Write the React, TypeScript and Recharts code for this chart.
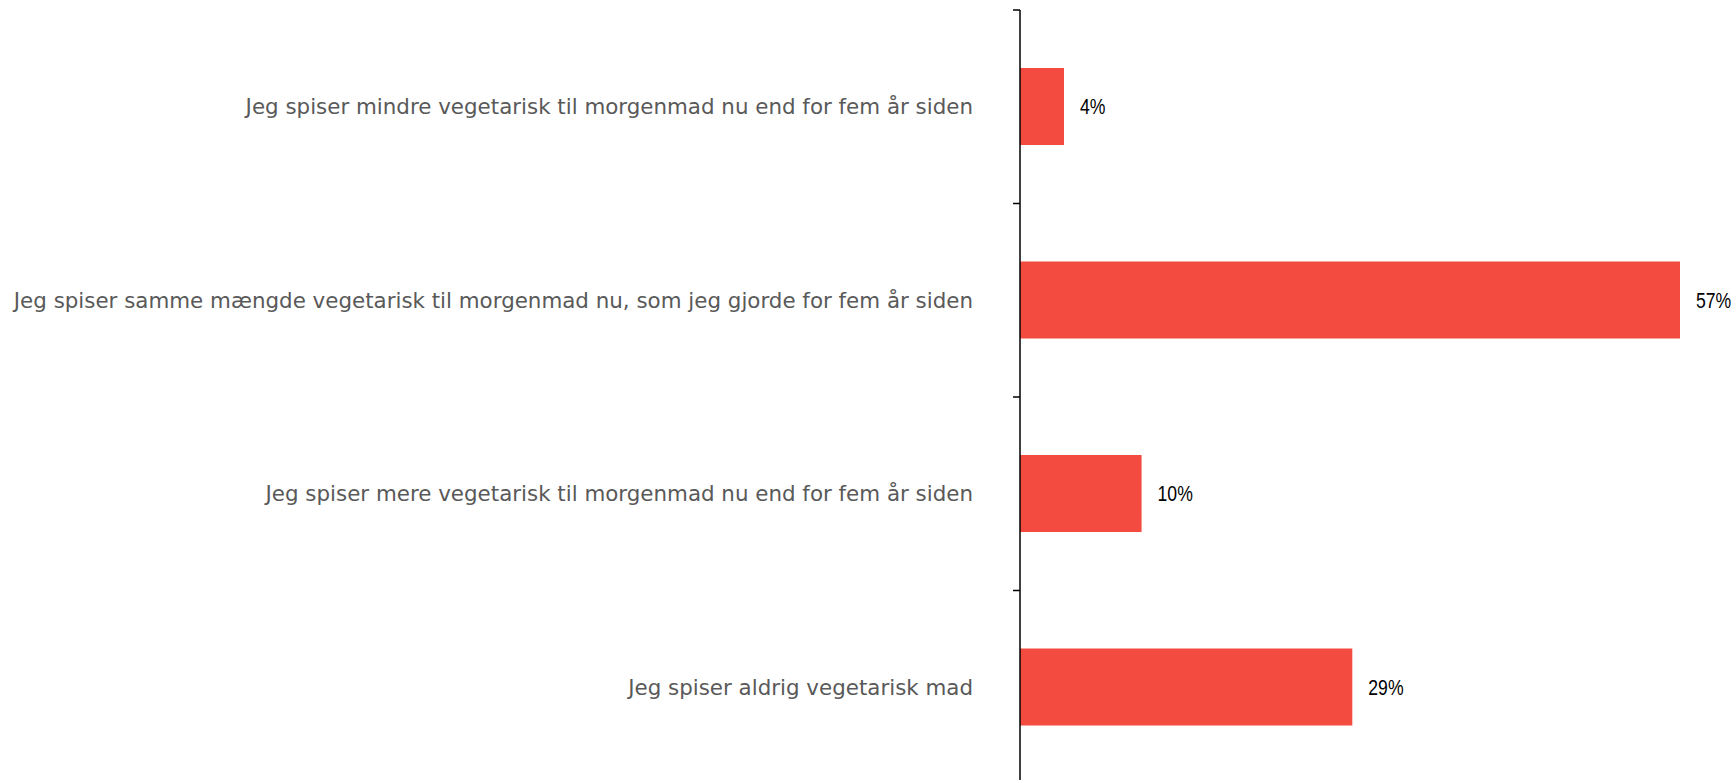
import { BarChart, Bar, XAxis, YAxis, LabelList } from 'recharts';

// svar-kategorier (top til bund)
const categories = [
  'Jeg spiser mindre vegetarisk til morgenmad nu end for fem år siden',
  'Jeg spiser samme mængde vegetarisk til morgenmad nu, som jeg gjorde for fem år siden',
  'Jeg spiser mere vegetarisk til morgenmad nu end for fem år siden',
  'Jeg spiser aldrig vegetarisk mad',
];
const shares = [3.8, 57, 10.5, 28.7];
const shareLabels = ['4%', '57%', '10%', '29%'];

const data = categories.map((name, i) => ({ name, value: shares[i], label: shareLabels[i] }));

const CHART_W = 1736;
const CHART_H = 784;
const TOP = 10;
const AXIS_X = 1020;
const TICK_LEN = 7;

// kategoritekst + tick på grænsen mellem kategorierne (ikke i midten)
function CategoryTick(props: any) {
  const { y, payload, index } = props;
  const half = payload?.offset || (CHART_H - TOP) / categories.length / 2;
  return (
    <g>
      <line x1={AXIS_X - TICK_LEN} x2={AXIS_X} y1={y - half} y2={y - half} stroke="#000" strokeWidth={1.5} />
      {index === categories.length - 1 && (
        <line x1={AXIS_X - TICK_LEN} x2={AXIS_X} y1={y + half} y2={y + half} stroke="#000" strokeWidth={1.5} />
      )}
      <text
        x={AXIS_X - 47}
        y={y}
        dy="0.355em"
        textAnchor="end"
        fill="#595959"
        fontSize={21.4}
        fontFamily='"DejaVu Sans", sans-serif'
      >
        {payload.value}
      </text>
    </g>
  );
}

// smal procent-etiket til højre for søjlen
function ValueLabel(props: any) {
  const { x, y, width, height, value } = props;
  const tx = Number(x) + Number(width) + 16;
  const ty = Number(y) + Number(height) / 2;
  return (
    <text
      transform={`translate(${tx},${ty}) scale(0.8,1)`}
      dy="0.355em"
      fill="#000"
      fontSize={22}
      fontFamily='"Liberation Sans", Arial, sans-serif'
    >
      {value}
    </text>
  );
}

export default function App() {
  return (
    <div style={{ position: 'absolute', left: 0, top: 0, width: 1736, height: 780, overflow: 'hidden', background: '#fff' }}>
      <BarChart
        width={CHART_W}
        height={CHART_H}
        data={data}
        layout="vertical"
        margin={{ top: TOP, right: 56, bottom: 0, left: 0 }}
      >
        <XAxis type="number" domain={[0, 57]} hide />
        <YAxis
          type="category"
          dataKey="name"
          width={AXIS_X}
          axisLine={{ stroke: '#000', strokeWidth: 1.5 }}
          tickLine={false}
          interval={0}
          tick={<CategoryTick />}
        />
        <Bar dataKey="value" fill="#f44b41" barSize={77} isAnimationActive={false}>
          <LabelList dataKey="label" content={<ValueLabel />} />
        </Bar>
      </BarChart>
    </div>
  );
}
